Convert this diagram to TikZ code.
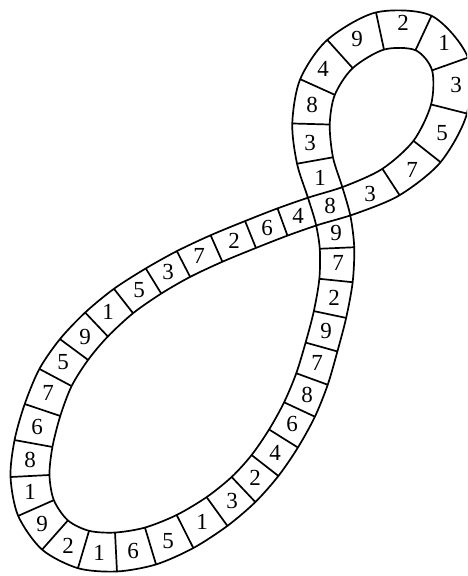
\documentclass[tikz,border=0pt]{standalone}
\usepackage{fontspec}
\setmainfont{Liberation Serif}
\usetikzlibrary{calc}
\begin{document}
\begin{tikzpicture}[x=1pt,y=-1pt,
  edge/.style={line width=1.7pt,black,line join=round},
  digit/.style={font=\fontsize{23}{23}\selectfont,inner sep=0pt}]
\useasboundingbox (0,0) rectangle (467,576);
\clip (0,0) rectangle (467,576);
\foreach \i/\x/\y/\h/\d in {0/330/206/18/8, 1/336/233/17.5/9, 2/338/263/17/7, 3/334/298/16.5/2,
  4/326/331/16.5/9, 5/317/363/16.5/7, 6/307/395/17/8, 7/292/424/17/6, 8/275/453/17/4, 9/255/478/17/2,
  10/232/501/17.5/3, 11/202/522/18/1, 12/168/541/19/5, 13/133/551/19.5/6, 14/99/553/19.5/1,
  15/68/546/19.5/2, 16/42/524/19.5/9, 17/30/492/19.5/1, 18/30/460/19.5/8, 19/37/427/19/6, 20/48/393/18.5/7,
  21/63/362/18/5, 22/85/337/17/9, 23/108/312/16/1, 24/139/290/15/5, 25/168/272/14.5/3,
  26/199/256/14.5/7, 27/234/241/14.5/2, 28/267/228/14.5/6, 29/298/216/14.5/4, 30/330/206/14.5/8,
  31/370/194/15/3, 32/412/170/16.5/7, 33/442/133/18/5, 34/456/85/19/3, 35/444/43/19/1,
  36/403/23/19/2, 37/357/39/19/9, 38/323/69/19/4, 39/312/105/19/8, 40/310/143/18.5/3, 41/320/178/18/1}{
  \coordinate (p\i) at (\x,\y);
  \expandafter\xdef\csname hwid\i\endcsname{\h}
  \ifnum\i=30\else\node[digit] (t\i) at (p\i) {\d};\fi
}
\foreach \i in {0,...,41}{
  \pgfmathtruncatemacro{\j}{mod(\i+1,42)}
  \pgfmathtruncatemacro{\k}{mod(\i+2,42)}
  \pgfmathtruncatemacro{\m}{mod(\i+41,42)}
  \edef\ha{\csname hwid\i\endcsname}
  \edef\hb{\csname hwid\j\endcsname}
  \pgfmathsetmacro{\hh}{(\ha+\hb)/2}
  \coordinate (m\i) at ($(p\i)!0.5!(p\j)$);
  \coordinate (d\i) at ($(m\i)+(p\k)-(p\m)$);
  \coordinate (L\i) at ($(m\i)!\hh pt!90:(d\i)$);
  \coordinate (R\i) at ($(m\i)!\hh pt!-90:(d\i)$);
}
\draw[edge] plot[smooth cycle] coordinates {(L0) (L1) (L2) (L3) (L4) (L5) (L6) (L7) (L8) (L9) (L10) (L11) (L12) (L13) (L14) (L15) (L16) (L17) (L18) (L19) (L20) (L21) (L22) (L23) (L24) (L25) (L26) (L27) (L28) (L29) (L30) (L31) (L32) (L33) (L34) (L35) (L36) (L37) (L38) (L39) (L40) (L41)};
\draw[edge] plot[smooth cycle] coordinates {(R0) (R1) (R2) (R3) (R4) (R5) (R6) (R7) (R8) (R9) (R10) (R11) (R12) (R13) (R14) (R15) (R16) (R17) (R18) (R19) (R20) (R21) (R22) (R23) (R24) (R25) (R26) (R27) (R28) (R29) (R30) (R31) (R32) (R33) (R34) (R35) (R36) (R37) (R38) (R39) (R40) (R41)};
\foreach \i in {1,...,28,31,32,...,40}{
  \draw[edge] (L\i) -- (R\i);
}
\end{tikzpicture}
\end{document}
